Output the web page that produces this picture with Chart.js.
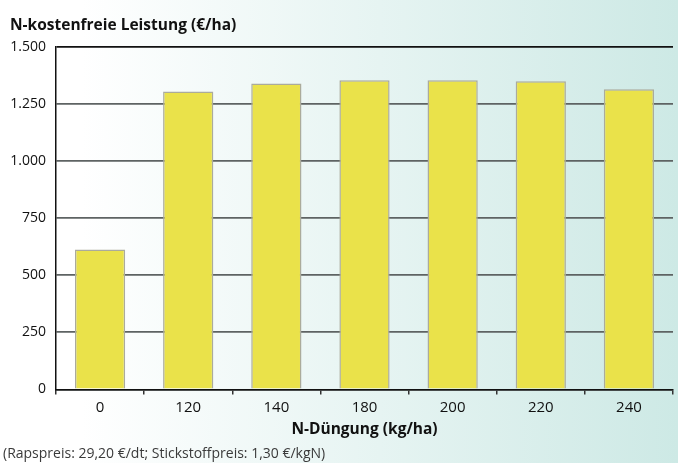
<!DOCTYPE html>
<html>
<head>
<meta charset="utf-8">
<script src="https://cdn.jsdelivr.net/npm/chart.js@4"></script>
<style>
    html, body { margin: 0; padding: 0; }
    body {
        width: 678px; height: 463px; overflow: hidden; position: relative;
        background: linear-gradient(to right, #ffffff 12%, #cde9e5 100%);
        font-family: "Open Sans", sans-serif;
    }
    #wrap { position: absolute; left: 0; top: 0; width: 678px; height: 463px; }
    .note { position: absolute; left: 3px; top: 443px; font-size: 14px; line-height: 19px; color: #3a3a3a; white-space: nowrap; }
</style>
</head>
<body>
<div id="wrap"><canvas id="nChart"></canvas></div>
<div class="note">(Rapspreis: 29,20 €/dt; Stickstoffpreis: 1,30 €/kgN)</div>
<script>
// data
const nLevels = ['0', '120', '140', '180', '200', '220', '240'];
const nFreeYield = [612, 1303, 1339, 1353, 1353, 1348, 1313];
const yTicks = [0, 250, 500, 750, 1000, 1250, 1500];

function deNumber(v) {
    // 1500 -> 1.500
    const s = String(Math.round(v));
    return s.replace(/\B(?=(\d{3})+(?!\d))/g, '.');
}

Chart.defaults.font.family = '"Open Sans", sans-serif';
Chart.defaults.color = '#111';

const ctx = document.getElementById('nChart').getContext('2d');
new Chart(ctx, {
    type: 'bar',
    data: {
        labels: nLevels,
        datasets: [{
            data: nFreeYield,
            backgroundColor: '#eae24a',
            borderColor: '#abab9c',
            borderWidth: 1.5,
            borderSkipped: 'bottom',
            barPercentage: 0.57,
            categoryPercentage: 1
        }]
    },
    options: {
        responsive: true,
        maintainAspectRatio: false,
        animation: false,
        layout: {padding: {left: 10, right: 5, top: 0, bottom: 24}},
        plugins: {
            legend: {display: false},
            tooltip: {enabled: false},
            title: {
                display: true,
                text: 'N-kostenfreie Leistung (€/ha)',
                align: 'start',
                color: '#111',
                font: {size: 15.5, weight: 'bold'},
                padding: {top: 16, bottom: 12}
            }
        },
        scales: {
            x: {
                grid: {
                    offset: true,
                    color: c => c.index === nLevels.length ? '#333' : 'rgba(0,0,0,0)',
                    lineWidth: 1.5,
                    drawTicks: true,
                    tickLength: 5,
                    tickColor: '#333'
                },
                border: {color: '#111', width: 1.5},
                ticks: {font: {size: 15}, padding: 4, color: '#111'},
                title: {
                    display: true,
                    text: 'N-Düngung (kg/ha)',
                    font: {size: 15.5, weight: 'bold'},
                    color: '#111',
                    padding: {top: 0, bottom: 0}
                }
            },
            y: {
                min: 0,
                max: 1500,
                afterBuildTicks: s => { s.ticks = yTicks.map(v => ({value: v})); },
                afterFit: s => { s.width = 46; },
                grid: {
                    color: c => c.tick && c.tick.value === 1500 ? '#111' : '#5e6363',
                    lineWidth: 1.8,
                    drawTicks: false
                },
                border: {color: '#111', width: 1.5},
                ticks: {
                    font: {size: 14},
                    color: '#111',
                    padding: 10,
                    callback: v => deNumber(v)
                }
            }
        }
    }
});
</script>
</body>
</html>
